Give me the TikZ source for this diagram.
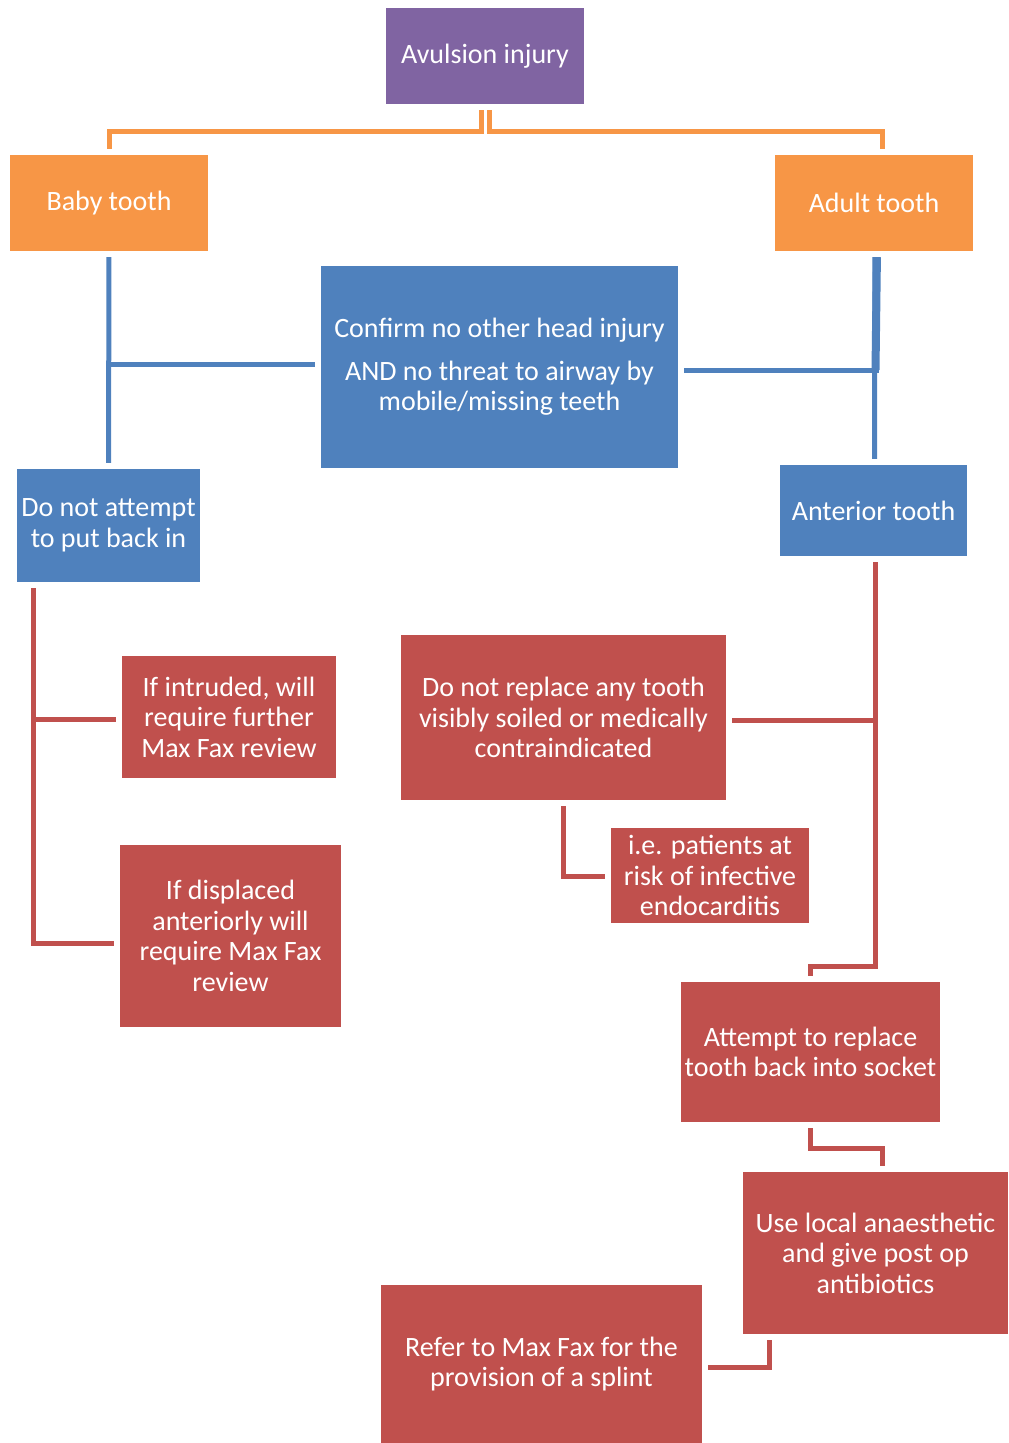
\documentclass[tikz,border=0pt]{standalone}
\usepackage{fontspec}
\setmainfont{Carlito}
\usepackage{tikz}
\usetikzlibrary{positioning}
\definecolor{avpurple}{HTML}{8064A2}
\definecolor{avorange}{HTML}{F79646}
\definecolor{avblue}{HTML}{4F81BD}
\definecolor{avred}{HTML}{C0504D}

\begin{document}
\begin{tikzpicture}[x=1pt,y=-1pt,
  box/.style={text=white,align=center,inner sep=1pt,font=\fontsize{28}{30.5}\selectfont},
  link/.style={line width=5pt,shorten <=6pt,shorten >=6pt},
  oline/.style={link,draw=avorange},
  bline/.style={link,draw=avblue},
  rline/.style={link,draw=avred}]
\useasboundingbox (0,0) rectangle (1009,1443);
% top row
\node[box,fill=avpurple,minimum width=198pt,minimum height=96pt] (avulsion) at (485,56) {Avulsion injury};
\node[box,fill=avorange,minimum width=198pt,minimum height=96pt] (baby) at (109,203) {Baby tooth};
\node[box,fill=avorange,minimum width=198pt,minimum height=96pt] (adult) at (874,203) {Adult tooth};
% blue boxes
\node[box,fill=avblue,minimum width=357pt,minimum height=202pt] (confirm) at (499.5,367) {Confirm no other head injury\\[12pt]AND no threat to airway by\\mobile/missing teeth};
\node[box,fill=avblue,minimum width=183pt,minimum height=113pt] (donot) at (108.5,525.5) {Do not attempt\\to put back in};
\node[box,fill=avblue,minimum width=187pt,minimum height=91pt] (anterior) at (873.5,510.5) {Anterior tooth};
% red boxes
\node[box,fill=avred,minimum width=214pt,minimum height=122pt] (intruded) at (229,717) {If intruded, will\\require further\\Max Fax review};
\node[box,fill=avred,minimum width=221pt,minimum height=182pt] (displaced) at (230.5,936) {If displaced\\anteriorly will\\require Max Fax\\review};
\node[box,fill=avred,minimum width=325pt,minimum height=165pt] (noreplace) at (563.5,717.5) {Do not replace any tooth\\visibly soiled or medically\\contraindicated};
\node[box,fill=avred,minimum width=198pt,minimum height=95pt] (ie) at (710,875.5) {i.e. patients at\\risk of infective\\endocarditis};
\node[box,fill=avred,minimum width=259pt,minimum height=140pt] (attempt) at (810.5,1052) {Attempt to replace\\tooth back into socket};
\node[box,fill=avred,minimum width=265pt,minimum height=162pt] (local) at (875.5,1253) {Use local anaesthetic\\and give post op\\antibiotics};
\node[box,fill=avred,minimum width=321pt,minimum height=158pt] (refer) at (541.5,1364) {Refer to Max Fax for the\\provision of a splint};

% orange links
\draw[oline] ([xshift=-4pt]avulsion.south) -- ([xshift=-4pt,yshift=-27pt]avulsion.south) -| (baby.north);
\draw[oline] ([xshift=4pt]avulsion.south) -- ([xshift=4pt,yshift=-27pt]avulsion.south) -| ([xshift=8pt]adult.north);
% blue links
\draw[bline] (baby.south) -- (donot.north);
\draw[bline,shorten >=0pt] ([yshift=3pt]confirm.west) -- ([yshift=3pt]confirm.west -| baby.south);
\draw[bline] ([xshift=1pt]adult.south) -- ([xshift=1pt]anterior.north);
\draw[bline,line width=8pt,shorten >=0pt] ([xshift=3pt]adult.south) -- ([yshift=-3pt,xshift=1.5pt]confirm.east -| adult.south);
\draw[bline,shorten >=0pt] ([yshift=-3pt]confirm.east) -- ([yshift=-3pt,xshift=5pt]confirm.east -| adult.south);
% red links
\draw[rline] ([xshift=17pt]donot.south west) |- ([yshift=-2pt]intruded.west);
\draw[rline] ([xshift=17pt]donot.south west) |- ([yshift=-7pt]displaced.west);
\draw[rline] ([xshift=2pt]anterior.south) |- ([yshift=-3pt]noreplace.east);
\draw[rline] ([xshift=2pt]anterior.south) |- ([yshift=15pt]attempt.north) -- (attempt.north);
\draw[rline] (noreplace.south) |- ([yshift=-1pt]ie.west);
\draw[rline] (attempt.south) -- ([yshift=-26pt]attempt.south) -| ([xshift=7pt]local.north);
\draw[rline] ([xshift=27pt]local.south west) |- ([yshift=-3pt]refer.east);
\end{tikzpicture}
\end{document}
